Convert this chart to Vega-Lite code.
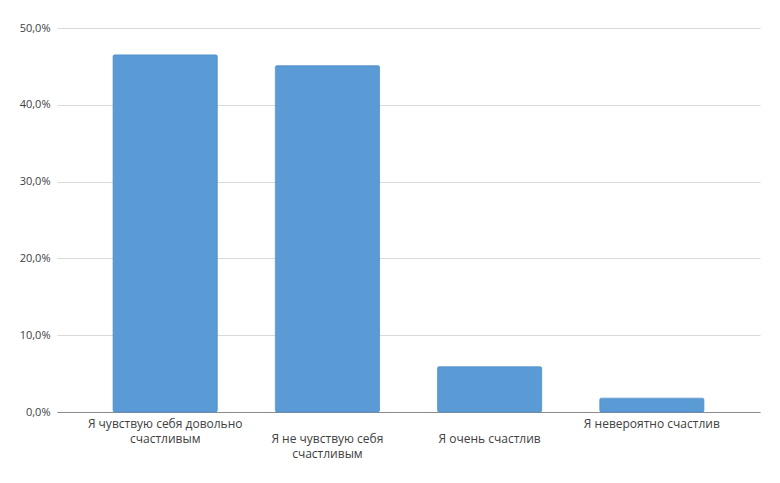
{
  "$schema": "https://vega.github.io/schema/vega-lite/v6.json",
  "autosize": "none",
  "width": 703,
  "height": 384,
  "padding": {"left": 57, "top": 28, "right": 20, "bottom": 71},
  "background": "white",
  "data": {
    "values": [
      {"category": "Я чувствую себя довольно|счастливым", "value": 46.5},
      {"category": " |Я не чувствую себя|счастливым", "value": 45.1},
      {"category": " |Я очень счастлив", "value": 5.9},
      {"category": "Я невероятно счастлив", "value": 1.8}
    ]
  },
  "mark": {"type": "bar", "color": "#5B9BD5", "stroke": "#5290cc", "strokeWidth": 0.8, "cornerRadius": 1.5},
  "encoding": {
    "x": {
      "field": "category",
      "type": "nominal",
      "sort": null,
      "scale": {"paddingInner": 0.358, "paddingOuter": 0.346},
      "axis": {
        "title": null,
        "labelAngle": 0,
        "labelExpr": "split(datum.value, '|')",
        "labelFont": "Open Sans",
        "labelFontSize": 12,
        "labelColor": "#404040",
        "labelLineHeight": 15,
        "labelPadding": 6,
        "labelLimit": 300,
        "ticks": false,
        "domainColor": "#8c8c8c",
        "domainWidth": 1.2
      }
    },
    "y": {
      "field": "value",
      "type": "quantitative",
      "scale": {"domain": [0, 50], "nice": false},
      "axis": {
        "title": null,
        "values": [0, 10, 20, 30, 40, 50],
        "labelExpr": "replace(format(datum.value, '.1f'), '.', ',') + '%'",
        "labelFont": "Open Sans",
        "labelFontSize": 11,
        "labelColor": "#404040",
        "labelPadding": 7,
        "ticks": false,
        "domain": false,
        "gridColor": "#d9d9d9",
        "gridWidth": 1
      }
    }
  },
  "config": {"view": {"stroke": null}}
}
